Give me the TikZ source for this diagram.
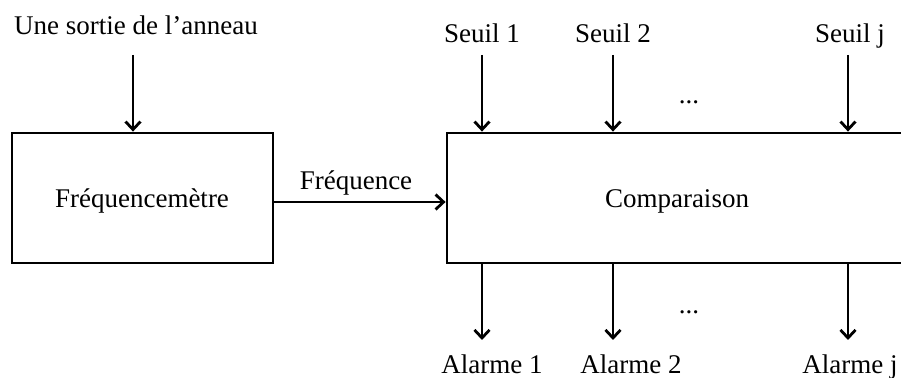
\documentclass[tikz,border=0pt]{standalone}
\usepackage{fontspec}
\setmainfont{Liberation Serif}
\usetikzlibrary{arrows.meta}

\tikzset{
  blockbox/.style={draw,line width=1.4pt,minimum height=65pt,inner sep=0pt},
  flow/.style={-{Straight Barb[length=4pt,width=7.5pt,line width=1.4pt]},line width=1.4pt},
  lbl/.style={inner sep=0pt,anchor=base}
}

\begin{document}
\begin{tikzpicture}[x=0.5pt,y=-0.5pt,font=\fontsize{13.5}{16}\selectfont]
\useasboundingbox (0,0) rectangle (901,378);

\node[blockbox,minimum width=130.5pt] (fm) at (142.5,198) {};
\node[lbl] at (142,208) {Fréquencemètre};
\node[blockbox,minimum width=230pt] (cmp) at (677,198) {};
\node[lbl] at (677,208) {Comparaison};

% entree
\node[lbl] (src) at (136,35) {Une sortie de l’anneau};
\coordinate (srcs) at (133,55);
\draw[flow] (srcs) -- (srcs |- fm.north);

\draw[flow] ([yshift=-2pt]fm.east) -- ([yshift=-2pt]cmp.west);
\node[lbl] (frq) at (356,190) {Fréquence};

% seuils
\node[lbl] (s1) at (482,43) {Seuil 1};
\node[lbl] (s2) at (613,43) {Seuil 2};
\node[lbl] (sj) at (850,43) {Seuil j};
\foreach \x/\n in {482/1,613/2,848/j}{
  \coordinate (t\n) at (\x,55);
  \draw[flow] (t\n) -- (t\n |- cmp.north);
}
\node[lbl] (dtop) at (689,104) {...};

% alarmes
\foreach \x/\n in {482/1,613/2,848/j}{
  \coordinate (b\n) at (\x,340);
  \draw[flow] (b\n |- cmp.south) -- (b\n);
}
\node[lbl] (dbot) at (689,314) {...};
\node[lbl] (a1) at (492,374) {Alarme 1};
\node[lbl] (a2) at (631,374) {Alarme 2};
\node[lbl] (aj) at (850,374) {Alarme j};
\end{tikzpicture}
\end{document}
